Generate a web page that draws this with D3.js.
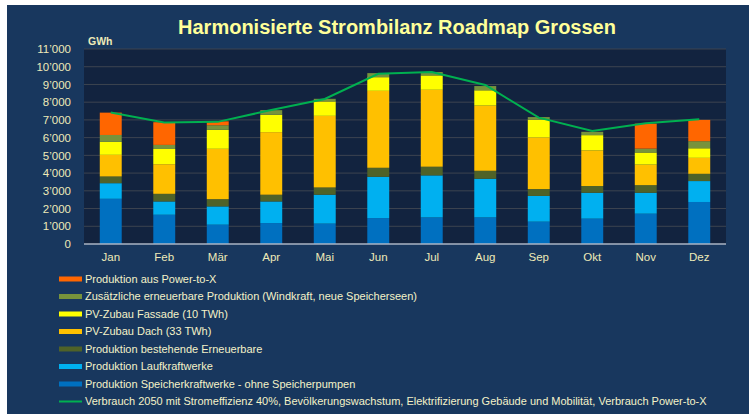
<!DOCTYPE html>
<html>
<head>
<meta charset="utf-8">
<script src="https://cdn.jsdelivr.net/npm/d3@7"></script>
<style>
  body { margin: 0; background: #ffffff; }
  svg { display: block; }
</style>
</head>
<body>
<script>
// Daten (GWh pro Monat)
const months = ['Jan', 'Feb', 'Mär', 'Apr', 'Mai', 'Jun', 'Jul', 'Aug', 'Sep', 'Okt', 'Nov', 'Dez'];

const speicher    = [2550, 1650, 1090, 1180, 1150, 1460, 1500, 1500, 1260, 1430, 1710, 2370];
const lauf        = [ 880,  750, 1030, 1220, 1630, 2330, 2370, 2180, 1450, 1460, 1180, 1180];
const bestehende  = [ 380,  430,  410,  380,  410,  510,  490,  450,  390,  380,  430,  410];
const dach        = [1220, 1670, 2840, 3530, 4040, 4340, 4340, 3680, 2910, 2010, 1160,  900];
const fassade     = [ 730,  860, 1070,  980,  810,  770,  810,  860, 1000,  860,  680,  540];
const zusaetzlich = [ 390,  230,  260,  260,  150,  230,  190,  240,  150,  190,  220,  400];
const powerToX    = [1260, 1280,  220,    0,    0,    0,    0,    0,    0,    0, 1410, 1200];
const verbrauch   = [7420, 6860, 6890, 7560, 8180, 9600, 9700, 8970, 7130, 6380, 6810, 7040];

const yTicks = [0, 1000, 2000, 3000, 4000, 5000, 6000, 7000, 8000, 9000, 10000, 11000];

const series = [
  { key: 'speicher',    label: 'Produktion Speicherkraftwerke - ohne Speicherpumpen', color: '#0070c0', values: speicher },
  { key: 'lauf',        label: 'Produktion Laufkraftwerke', color: '#00b0f0', values: lauf },
  { key: 'bestehende',  label: 'Produktion bestehende Erneuerbare', color: '#4f6228', values: bestehende },
  { key: 'dach',        label: 'PV-Zubau Dach (33 TWh)', color: '#ffc000', values: dach },
  { key: 'fassade',     label: 'PV-Zubau Fassade (10 TWh)', color: '#ffff00', values: fassade },
  { key: 'zusaetzlich', label: 'Zusätzliche erneuerbare Produktion (Windkraft, neue Speicherseen)', color: '#77933c', values: zusaetzlich },
  { key: 'ptx',         label: 'Produktion aus Power-to-X', color: '#ff6600', values: powerToX }
];
const lineLabel = 'Verbrauch 2050 mit Stromeffizienz 40%, Bevölkerungswachstum, Elektrifizierung Gebäude und Mobilität, Verbrauch Power-to-X';
const lineColor = '#00b050';

const width = 753;
const height = 414;
const margin = { top: 49, right: 27, bottom: 170, left: 84 };
const textColor = '#eeeab8';

const table = months.map((m, i) => {
  const row = { month: m };
  series.forEach(s => { row[s.key] = s.values[i]; });
  return row;
});

const stacked = d3.stack().keys(series.map(s => s.key))(table);

const svg = d3.select('body')
  .append('svg')
  .attr('width', width)
  .attr('height', height)
  .style('font-family', '"Liberation Sans", Arial, sans-serif');

// Hintergrund
svg.append('rect')
  .attr('x', 7).attr('y', 5)
  .attr('width', 742).attr('height', height - 5)
  .attr('fill', '#18375e');

const x = d3.scaleBand()
  .domain(months)
  .range([margin.left, width - margin.right])
  .paddingInner(0.59)
  .paddingOuter(0.295);

const y = d3.scaleLinear()
  .domain([0, 11000])
  .range([height - margin.bottom, margin.top]);

// Zeichnungsfläche
svg.append('rect')
  .attr('x', margin.left).attr('y', margin.top)
  .attr('width', width - margin.right - margin.left)
  .attr('height', y(0) - margin.top)
  .attr('fill', '#12233f');

// Gitterlinien
svg.append('g')
  .selectAll('line')
  .data(yTicks.slice(1))
  .enter()
  .append('line')
  .attr('x1', margin.left).attr('x2', width - margin.right)
  .attr('y1', d => y(d)).attr('y2', d => y(d))
  .attr('stroke', '#3d4450')
  .attr('stroke-width', 1);

// Balken
svg.append('g')
  .selectAll('g')
  .data(stacked)
  .enter()
  .append('g')
  .attr('fill', (d, i) => series[i].color)
  .selectAll('rect')
  .data(d => d)
  .enter()
  .append('rect')
  .attr('x', d => x(d.data.month))
  .attr('width', x.bandwidth())
  .attr('y', d => y(d[1]))
  .attr('height', d => y(d[0]) - y(d[1]));

// Verbrauchslinie
svg.append('path')
  .datum(verbrauch)
  .attr('fill', 'none')
  .attr('stroke', lineColor)
  .attr('stroke-width', 2)
  .attr('d', d3.line()
    .x((d, i) => x(months[i]) + x.bandwidth() / 2)
    .y(d => y(d)));

// Achsen
const fmt = d3.formatLocale({ decimal: '.', thousands: '’', grouping: [3], currency: ['', ''] }).format(',');

svg.append('g')
  .attr('transform', `translate(${margin.left}, 0)`)
  .call(d3.axisLeft(y).tickValues(yTicks).tickFormat(fmt).tickSize(0).tickPadding(13))
  .call(g => g.select('.domain').remove())
  .call(g => g.selectAll('text')
    .attr('fill', textColor)
    .style('font-size', '11.5px')
    .style('font-family', '"Liberation Sans", Arial, sans-serif'));

svg.append('g')
  .attr('transform', `translate(0, ${y(0)})`)
  .call(d3.axisBottom(x).tickSize(0).tickPadding(9))
  .call(g => g.select('.domain').attr('stroke', '#aab4c4').attr('stroke-width', 1.5)
    .attr('d', `M${margin.left},0H${width - margin.right}`))
  .call(g => g.selectAll('text')
    .attr('fill', textColor)
    .style('font-size', '11.5px')
    .style('font-family', '"Liberation Sans", Arial, sans-serif'));

// Titel
svg.append('text')
  .attr('x', 397).attr('y', 34)
  .attr('text-anchor', 'middle')
  .attr('fill', '#ffff99')
  .style('font-size', '20px')
  .style('font-weight', 'bold')
  .text('Harmonisierte Strombilanz Roadmap Grossen');

svg.append('text')
  .attr('x', 88).attr('y', 45)
  .attr('fill', textColor)
  .style('font-size', '10.5px')
  .style('font-weight', 'bold')
  .text('GWh');

// Legende
const legendItems = series.slice().reverse().map(s => ({ label: s.label, color: s.color, line: false }))
  .concat([{ label: lineLabel, color: lineColor, line: true }]);

const legend = svg.append('g')
  .selectAll('g')
  .data(legendItems)
  .enter()
  .append('g')
  .attr('transform', (d, i) => `translate(59, ${279 + i * 17.5})`);

legend.append('rect')
  .attr('x', 0)
  .attr('y', d => d.line ? -1 : -2.5)
  .attr('width', 23)
  .attr('height', d => d.line ? 2 : 5)
  .attr('fill', d => d.color);

legend.append('text')
  .attr('x', 26)
  .attr('dy', '0.35em')
  .attr('fill', '#f4f2c8')
  .style('font-size', '11px')
  .text(d => d.label);
</script>
</body>
</html>
